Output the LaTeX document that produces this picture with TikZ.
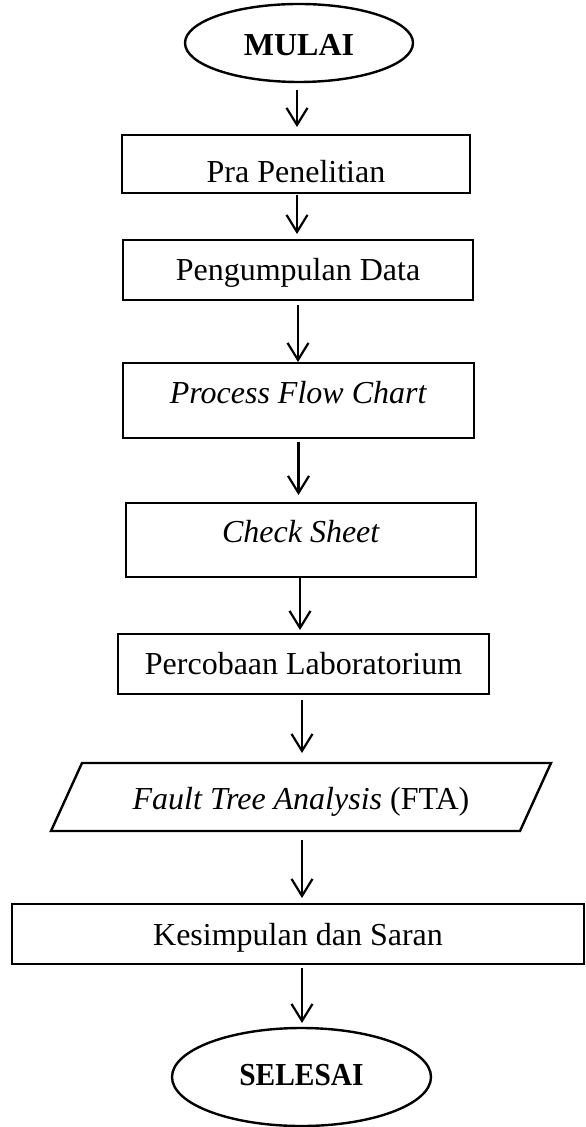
\documentclass[tikz,border=0pt]{standalone}
\usepackage{fontspec}
\setmainfont{Liberation Serif}
\usetikzlibrary{arrows.meta,shapes.geometric}

% text whose baseline sits at the node centre, shifted by #1
\newcommand{\basetext}[2]{\raisebox{#1}[0pt][0pt]{#2}}

\tikzset{
  flow/.style={line width=1.2pt, inner sep=0pt, outer sep=0pt,
    font=\fontsize{16}{19}\selectfont},
  procbox/.style={flow, draw, rectangle},
  terminal/.style={flow, draw, ellipse},
  iobox/.style={flow, rectangle},
  arr/.style={line width=1.1pt, -{Straight Barb[length=8.5pt,width=10.5pt,line width=1.1pt]}}
}

\begin{document}
\begin{tikzpicture}[x=0.5pt,y=-0.5pt]
  \useasboundingbox (0,0) rectangle (585,1127);
  \fill[white] (0,0) rectangle (585,1127);

  % start / end terminals
  \node[terminal, minimum width=114pt, minimum height=39pt] (mulai) at (299,43)
    {\basetext{-6.5pt}{\textbf{MULAI}}};

  % process steps
  \node[procbox, minimum width=174pt, minimum height=29pt] (pra) at (296,164)
    {\basetext{-9.5pt}{Pra Penelitian}};
  \node[procbox, minimum width=175pt, minimum height=30pt] (data) at (298,270)
    {\basetext{-5.5pt}{Pengumpulan Data}};
  \node[procbox, minimum width=175.5pt, minimum height=37.5pt] (pfc) at (298.5,400.5)
    {\basetext{-1.75pt}{\textit{Process Flow Chart}}};
  \node[procbox, minimum width=175pt, minimum height=37pt] (cs) at (301,540)
    {\basetext{-1pt}{\textit{Check Sheet}}};
  \node[procbox, minimum width=185.5pt, minimum height=30pt] (lab) at (303.5,664)
    {\basetext{-5pt}{Percobaan Laboratorium}};

  % parallelogram for the analysis step
  \node[iobox, minimum width=234.5pt, minimum height=34pt] (fta) at (301,797)
    {\basetext{-6pt}{\textit{Fault Tree Analysis} (FTA)}};
  \draw[line width=1.2pt, line join=miter]
    ([xshift=7.75pt]fta.north west) -- ([xshift=7.75pt]fta.north east)
    -- ([xshift=-7.75pt]fta.south east) -- ([xshift=-7.75pt]fta.south west) -- cycle;

  \node[procbox, minimum width=286pt, minimum height=30pt] (saran) at (298,934)
    {\basetext{-5.5pt}{Kesimpulan dan Saran}};

  \node[terminal, minimum width=129.5pt, minimum height=49pt] (selesai) at (301.5,1077)
    {\basetext{-4pt}{\scalebox{0.92}[1]{\textbf{SELESAI}}}};

  % connectors
  \draw[arr, shorten <=4pt, shorten >=4pt] ([xshift=-1pt]mulai.south) -- ([xshift=-1pt]mulai.south |- pra.north);
  \draw[arr, shorten <=1pt, shorten >=3pt] ([xshift=0.5pt]pra.south) -- ([xshift=0.5pt]pra.south |- data.north);
  \draw[arr, shorten <=2.5pt, shorten >=0.5pt] (data.south) -- (data.south |- pfc.north);
  \draw[arr, shorten <=2pt, shorten >=4pt] (pfc.south) -- (pfc.south |- cs.north);
  \draw[arr, shorten <=0pt, shorten >=2pt] ([xshift=-0.5pt]cs.south) -- ([xshift=-0.5pt]cs.south |- lab.north);
  \draw[arr, shorten <=3pt, shorten >=5pt] ([xshift=-0.75pt]lab.south) -- ([xshift=-0.75pt]lab.south |- fta.north);
  \draw[arr, shorten <=4.5pt, shorten >=3pt] ([xshift=0.5pt]fta.south) -- ([xshift=0.5pt]fta.south |- saran.north);
  \draw[arr, shorten <=2pt, shorten >=2.5pt] ([xshift=2pt]saran.south) -- ([xshift=2pt]saran.south |- selesai.north);
\end{tikzpicture}
\end{document}
